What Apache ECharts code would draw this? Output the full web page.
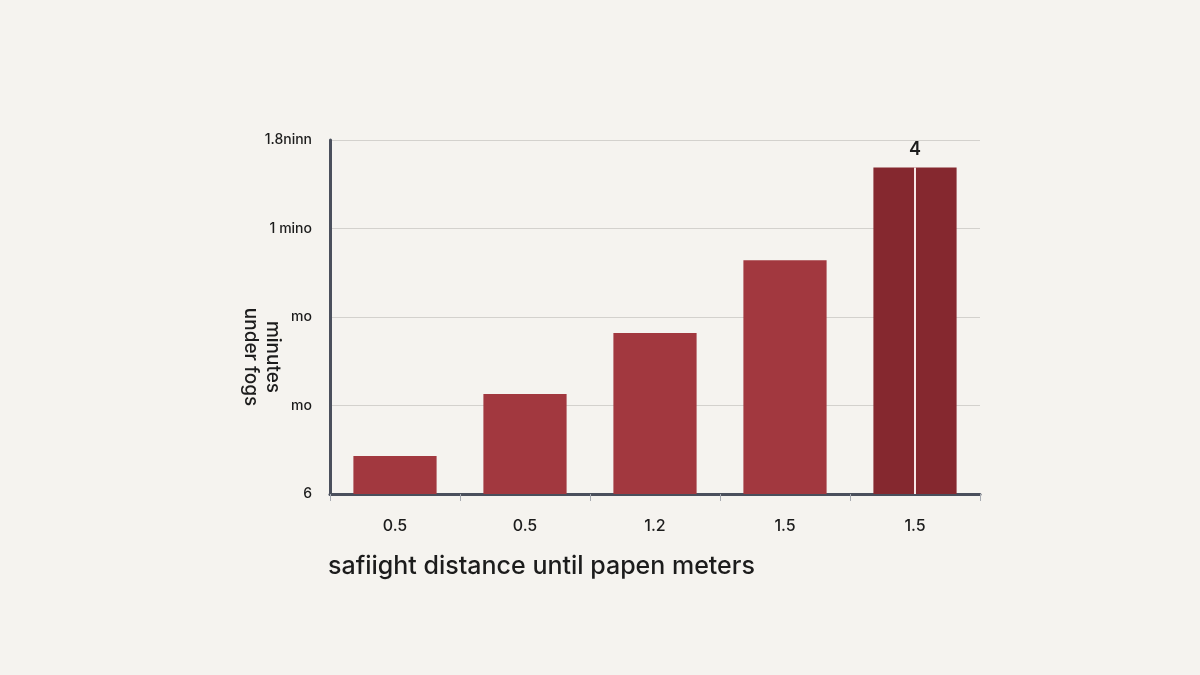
<!DOCTYPE html>
<html>
<head>
<meta charset="utf-8">
<script src="https://cdn.jsdelivr.net/npm/echarts@6/dist/echarts.min.js"></script>
<style>
  html, body { margin: 0; padding: 0; background: #f5f3ef; }
  #chart1 { width: 1200px; height: 675px; }
</style>
</head>
<body>
<div id="chart1"></div>
<script>
(function(){

    // 数据
    var categories = ['0.5', '0.5', '1.2', '1.5', '1.5'];
    var values = [0.43, 1.13, 1.82, 2.64, 3.69];
    var yTickLabels = ['6', 'mo', 'mo', '1 mino', '1.8ninn'];
    var topLabel = '4';
    var yTitle = 'minutes\nunder fogs';
    var xTitle = 'safiight distance until papen meters';

    var barColor = '#a2383f';
    var lastColor = '#85282f';

    var seriesData = values.map(function(v, i){
        var item = { value: v, itemStyle: { color: i == values.length - 1 ? lastColor : barColor } };
        if (i == values.length - 1) {
            item.label = {
                show: true, position: 'top', distance: 9,
                formatter: topLabel, fontSize: 18, fontWeight: 600, color: '#1c1c1c', fontFamily: 'Inter'
            };
        }
        return item;
    });

    var chart1 = echarts.init(document.getElementById('chart1'));
    var option = {
        backgroundColor: '#f5f3ef',
        animation: false,
        grid: { left: 330, right: 220, top: 140, bottom: 181 },
        graphic: [{
            type: 'text',
            x: 262, y: 357,
            rotation: -Math.PI / 2,
            style: {
                text: yTitle,
                align: 'center', verticalAlign: 'middle',
                font: '500 19px Inter',
                lineHeight: 22,
                fill: '#1c1c1c'
            }
        }],
        xAxis: {
            type: 'category',
            data: categories,
            axisLine: { lineStyle: { color: '#4a4f5c', width: 3 } },
            axisTick: { show: true, length: 7, lineStyle: { color: '#a8acb3', width: 1 } },
            axisLabel: { color: '#1c1c1c', fontSize: 16, fontWeight: 500, margin: 24, fontFamily: 'Inter' },
            name: xTitle,
            nameLocation: 'start',
            nameGap: 0,
            nameTextStyle: {
                fontSize: 25, color: '#1c1c1c', fontFamily: 'Inter', fontWeight: 500,
                align: 'left', verticalAlign: 'top', padding: [60, 0, 0, -2]
            }
        },
        yAxis: {
            type: 'value',
            min: 0, max: 4, interval: 1,
            axisLine: { show: true, lineStyle: { color: '#4a4f5c', width: 3 } },
            axisTick: { show: false },
            splitLine: { lineStyle: { color: '#d3d1cd', width: 1 } },
            axisLabel: {
                color: '#1c1c1c', fontSize: 14, fontWeight: 500, margin: 18, fontFamily: 'Inter',
                formatter: function(v){ return yTickLabels[Math.round(v)] || ''; }
            }
        },
        series: [{
            type: 'bar',
            barWidth: '64%',
            data: seriesData,
            markLine: {
                silent: true,
                symbol: 'none',
                label: { show: false },
                lineStyle: { color: '#f7e6e6', width: 2, type: 'solid' },
                data: [[
                    { coord: [categories.length - 1, 0] },
                    { coord: [categories.length - 1, values[values.length - 1]] }
                ]]
            }
        }]
    };
    chart1.setOption(option);
    window.onresize = chart1.resize;

})();
</script>
</body>
</html>
